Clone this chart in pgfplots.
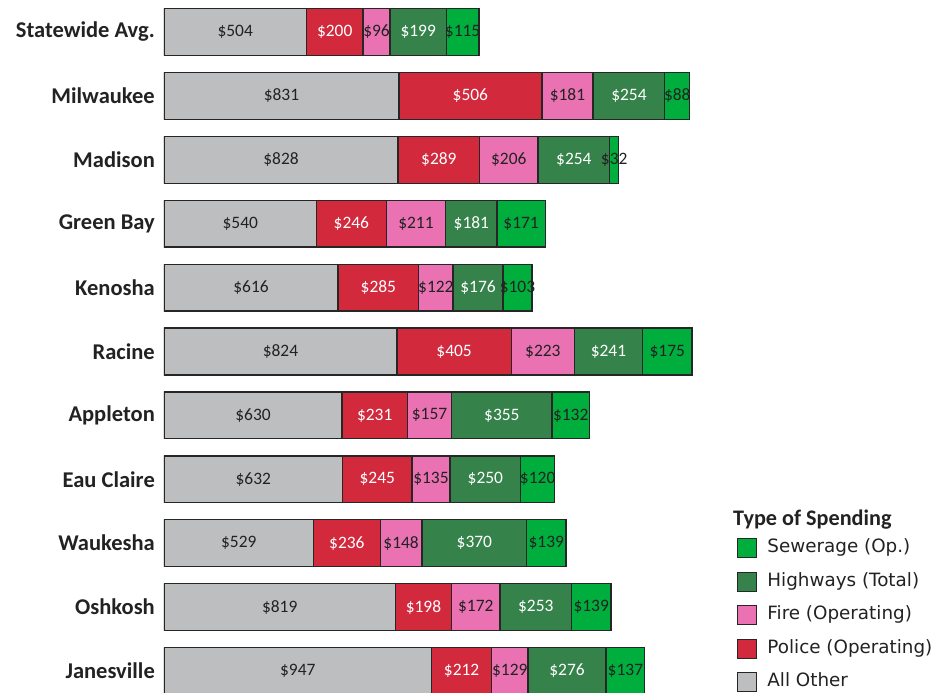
\documentclass[border=0pt]{standalone}
\usepackage{pgfplots}
\usepackage{pgfplotstable}
\pgfplotsset{compat=1.18}
\usepackage{fontspec}
\setmainfont{Carlito}
\newfontfamily\legfont{DejaVu Sans}
\definecolor{cOther}{HTML}{BDBEC0}
\definecolor{cPolice}{HTML}{D2293D}
\definecolor{cFire}{HTML}{EA72B3}
\definecolor{cHwy}{HTML}{35834A}
\definecolor{cSew}{HTML}{00AE3E}
\definecolor{edge}{HTML}{262626}
\definecolor{txt}{HTML}{222222}

\pgfplotstableread{
idx other police fire hwy sew
0 504 200 96 199 115
1 831 506 181 254 88
2 828 289 206 254 32
3 540 246 211 181 171
4 616 285 122 176 103
5 824 405 223 241 175
6 630 231 157 355 132
7 632 245 135 250 120
8 529 236 148 370 139
9 819 198 172 253 139
10 947 212 129 276 137
}\data
\pgfplotstablecreatecol[create col/expr={\thisrow{other}/2}]{m1}\data
\pgfplotstablecreatecol[create col/expr={\thisrow{other}+\thisrow{police}/2}]{m2}\data
\pgfplotstablecreatecol[create col/expr={\thisrow{other}+\thisrow{police}+\thisrow{fire}/2}]{m3}\data
\pgfplotstablecreatecol[create col/expr={\thisrow{other}+\thisrow{police}+\thisrow{fire}+\thisrow{hwy}/2}]{m4}\data
\pgfplotstablecreatecol[create col/expr={\thisrow{other}+\thisrow{police}+\thisrow{fire}+\thisrow{hwy}+\thisrow{sew}/2}]{m5}\data

\pgfplotsset{
  myax/.style={
    scale only axis, width=775bp, height=693bp,
    xmin=0, xmax=2742, ymin=-0.5, ymax=10.345, y dir=reverse,
    axis line style={draw=none}, xtick=\empty, major tick length=0pt,
  },
  barsty/.style={fill=#1, draw=edge, line width=1.3bp},
  lab/.style={draw=none, forget plot, point meta=explicit symbolic,
    nodes near coords={\$\pgfplotspointmeta},
    every node near coord/.append style={anchor=center, inner sep=0pt,
      font=\fontsize{17.5}{17.5}\selectfont, text=#1}},
}

\begin{document}
\begin{tikzpicture}
\begin{axis}[name=ax, myax, xbar stacked, bar width=46.8bp,
  ytick={0,...,10},
  yticklabels={Statewide Avg.,Milwaukee,Madison,Green Bay,Kenosha,Racine,Appleton,Eau Claire,Waukesha,Oshkosh,Janesville},
  yticklabel style={anchor=east, inner sep=0pt, xshift=-9bp, text=txt,
    font=\fontsize{22.6}{22.6}\selectfont\bfseries},
  legend style={at={(axis description cs:0.7394,0.2237)}, anchor=north west,
    draw=none, fill=none, inner sep=0pt, row sep=13.25bp, text=txt,
    font=\legfont\fontsize{18.4}{18.4}\selectfont,
    nodes={inner sep=0pt, text height=13bp, text depth=4bp},
    /tikz/every odd column/.style={column sep=10bp}},
  legend cell align=left, reverse legend,
  legend image code/.code={\draw[#1, draw=edge, line width=1.2bp] (0bp,-9.5bp) rectangle (19bp,9.5bp);},
]
\addplot[barsty=cOther] table[x=other, y=idx]{\data};
\addlegendentry{All Other}
\addplot[barsty=cPolice] table[x=police, y=idx]{\data};
\addlegendentry{Police (Operating)}
\addplot[barsty=cFire] table[x=fire, y=idx]{\data};
\addlegendentry{Fire (Operating)}
\addplot[barsty=cHwy] table[x=hwy, y=idx]{\data};
\addlegendentry{Highways (Total)}
\addplot[barsty=cSew] table[x=sew, y=idx]{\data};
\addlegendentry{Sewerage (Op.)}
\node[anchor=base west, inner sep=0pt, text=txt, font=\fontsize{22.3}{22.3}\selectfont\bfseries]
  at (axis description cs:0.7342,0.241) {Type of Spending};
\end{axis}
\begin{axis}[myax, hide axis]
\addplot[lab=txt] table[x=m1, y=idx, meta=other]{\data};
\addplot[lab=white] table[x=m2, y=idx, meta=police]{\data};
\addplot[lab=txt] table[x=m3, y=idx, meta=fire]{\data};
\addplot[lab=white] table[x=m4, y=idx, meta=hwy]{\data};
\addplot[lab=txt] table[x=m5, y=idx, meta=sew]{\data};
\end{axis}
\pgfresetboundingbox
\path[use as bounding box] ([xshift=-164bp]ax.south west) rectangle ([xshift=4bp]ax.north east);
\end{tikzpicture}
\end{document}
